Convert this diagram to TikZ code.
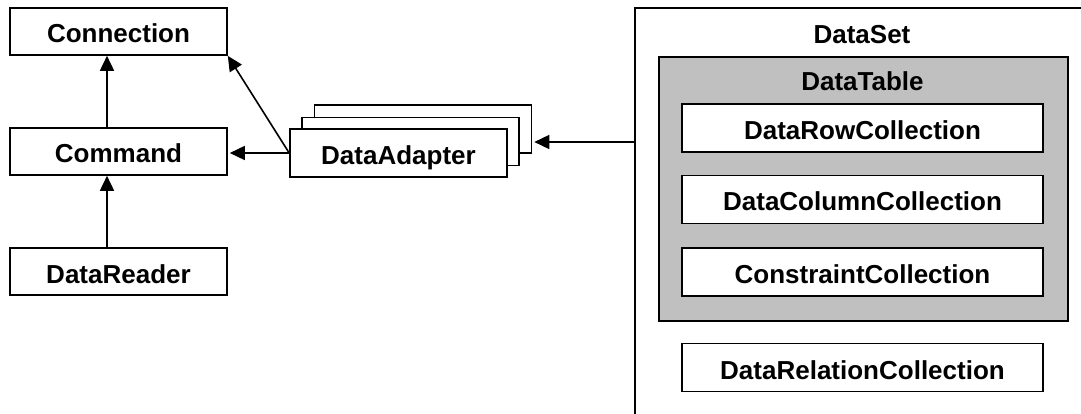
\documentclass[tikz,border=0pt]{standalone}
\usepackage{fontspec}
\setmainfont{Liberation Sans}
\usetikzlibrary{arrows.meta}
\definecolor{tablegray}{HTML}{C0C0C0}
\begin{document}
\begin{tikzpicture}[x=1pt,y=-1pt,
  txt/.style={font=\bfseries\fontsize{26}{30}\selectfont},
  box/.style={txt, draw, fill=white, line width=1.6pt, inner sep=0pt,
    minimum width=217pt, minimum height=47pt, text height=23pt, text depth=0pt},
  coll/.style={box, minimum width=361pt, minimum height=48pt},
  frame/.style={draw, line width=1.6pt, inner sep=0pt, anchor=north west},
  title/.style={txt, anchor=base, inner sep=0pt},
  link/.style={line width=1.6pt, -{Triangle[length=15pt,width=14pt]}}
]
\useasboundingbox (0,0) rectangle (1081,414);
\clip (0,0) rectangle (1081,414);

% ADO.NET connected classes
\node[box] (conn) at (118.5,31.5) {Connection};
\node[box] (cmd) at (118.5,151.5) {Command};
\node[box] (rdr) at (118.5,271.5) {DataReader};

% stacked DataAdapter boxes
\node[box, minimum height=48pt] (da3) at (423,129) {};
\node[box, minimum height=48pt] (da2) at (410.5,141.5) {};
\node[box, minimum height=48pt] (da) at (398.5,153) {DataAdapter};

% DataSet container (runs past the page edge)
\node[frame, minimum width=470pt, minimum height=430pt] (dataset) at (634,7) {};
\node[title] (dsname) at (862,44) {DataSet};
\node[frame, fill=tablegray, minimum width=409pt, minimum height=264pt] (table) at (658,56) {};
\node[title] (tname) at (862.5,91) {DataTable};
\node[coll] (rows) at (862.5,128) {DataRowCollection};
\node[coll] (cols) at (862.5,199.5) {DataColumnCollection};
\node[coll] (cons) at (862.5,272) {ConstraintCollection};
\node[coll] (rels) at (862.5,367.5) {DataRelationCollection};

% connectors
\draw[link] ([xshift=-11.5pt]cmd.north) -- ([xshift=-11.5pt]conn.south);
\draw[link] ([xshift=-11.5pt]rdr.north) -- ([xshift=-11.5pt]cmd.south);
\draw[link] (da.west) -- (conn.south east);
\draw[link, shorten >=2pt] (da.west) -- (da.west -| cmd.east);
\coordinate (lvl) at (0,142);
\draw[link, shorten >=2pt] (dataset.north west |- lvl) -- (da3.east |- lvl);
\end{tikzpicture}
\end{document}
